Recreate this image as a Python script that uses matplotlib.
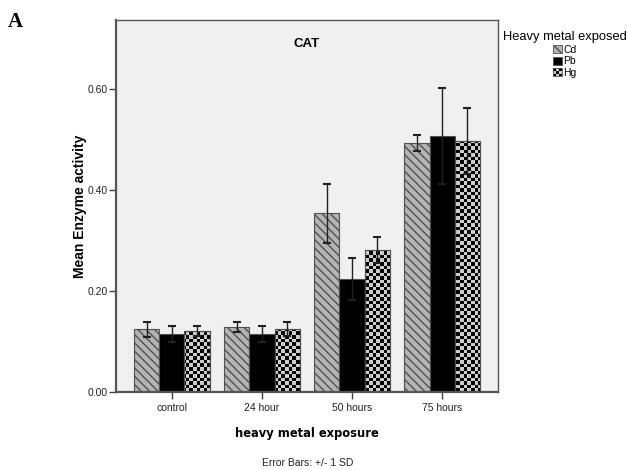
import numpy as np
import matplotlib
matplotlib.use("Agg")
import matplotlib.pyplot as plt
from matplotlib.patches import Rectangle, Patch
from matplotlib.legend_handler import HandlerPatch

groups = ["control", "24 hour", "50 hours", "75 hours"]
metals = ["Cd", "Pb", "Hg"]
cd_mean = [0.124, 0.129, 0.354, 0.493]
cd_sd = [0.015, 0.010, 0.058, 0.016]
pb_mean = [0.115, 0.115, 0.224, 0.507]
pb_sd = [0.016, 0.016, 0.041, 0.095]
hg_mean = [0.121, 0.125, 0.281, 0.497]
hg_sd = [0.010, 0.014, 0.026, 0.065]

plt.rcParams['font.family'] = ['Liberation Sans', 'DejaVu Sans']
plt.rcParams['hatch.linewidth'] = 1.0
plt.rcParams['hatch.color'] = '#3a3a3a'

W, H = 628, 470
fig = plt.figure(figsize=(W/100, H/100), dpi=100)
ax = fig.add_axes([116/W, 1-392/H, 382/W, 372/H])
ax.set_facecolor('#f0f0f0')

x = np.arange(len(groups))
bw = 0.278
edge = '#505050'

cd_bars = ax.bar(x - bw, cd_mean, bw, color='#b4b4b4', hatch='\\\\\\\\',
                 edgecolor=edge, linewidth=0.8, zorder=2)
pb_bars = ax.bar(x, pb_mean, bw, color='black', edgecolor=edge, linewidth=0.8, zorder=2)
hg_bars = ax.bar(x + bw, hg_mean, bw, color='#c8c8c8', edgecolor=edge, linewidth=0.8, zorder=2)

ax.set_xlim(-0.622, 3.622)
ax.set_ylim(0, 0.737)

# checkerboard fill for Hg bars
nx, ny = int(382/3.5), int(372/3.5)
checker = (np.add.outer(np.arange(ny), np.arange(nx)) % 2).astype(float)
for b in hg_bars:
    im = ax.imshow(checker, cmap='gray', vmin=0, vmax=1.25, extent=(-0.622, 3.622, 0, 0.737),
                   aspect='auto', interpolation='nearest', zorder=2.5)
    im.set_clip_path(b)
ax.bar(x + bw, hg_mean, bw, fill=False, edgecolor=edge, linewidth=0.8, zorder=3)
ax.set_xlim(-0.622, 3.622)
ax.set_ylim(0, 0.737)

for off, m, s in [(-bw, cd_mean, cd_sd), (0, pb_mean, pb_sd), (bw, hg_mean, hg_sd)]:
    ax.errorbar(x + off, m, yerr=s, fmt='none', ecolor='#202020', elinewidth=1,
                capsize=3, capthick=1.5, zorder=4)

ax.set_xticks(x)
ax.set_xticklabels(groups, fontsize=7.5, color='#222222')
ax.set_yticks([0, 0.2, 0.4, 0.6])
ax.set_yticklabels(["0.00", "0.20", "0.40", "0.60"], fontsize=7.5, color='#222222')
ax.tick_params(axis='y', length=5, width=1, color='#404040', pad=1)
ax.tick_params(axis='x', length=5, width=1, color='#404040', pad=3)
for sp in ax.spines.values():
    sp.set_color('#555555')
    sp.set_linewidth(1)
ax.spines['left'].set_linewidth(1.6)
ax.spines['bottom'].set_linewidth(1.6)

ax.set_ylabel("Mean Enzyme activity", fontsize=10, fontweight='bold', labelpad=0)
ax.set_xlabel("heavy metal exposure", fontsize=8.3, fontweight='bold', family='DejaVu Sans', labelpad=10)
ax.text(0.5, 0.935, "CAT", transform=ax.transAxes, ha='center', va='center',
        fontsize=9.5, fontweight='bold')

fig.text(308/W, 1-463/H, "Error Bars: +/- 1 SD", ha='center', va='center', fontsize=7.5, color='#222222')
fig.text(8/W, 1-22/H, "A", ha='left', va='center', fontsize=15, fontweight='bold',
         family='Liberation Serif')


class HandlerChecker(HandlerPatch):
    def create_artists(self, legend, orig_handle, xdescent, ydescent, width, height, fontsize, trans):
        arts = [Rectangle((-xdescent, -ydescent), width, height, facecolor='#c8c8c8',
                          edgecolor='none', transform=trans)]
        n = 3
        cw, ch = width / n, height / n
        for i in range(n):
            for j in range(n):
                if (i + j) % 2 == 0:
                    arts.append(Rectangle((-xdescent + i*cw, -ydescent + j*ch), cw, ch,
                                          facecolor='black', edgecolor='none', transform=trans))
        arts.append(Rectangle((-xdescent, -ydescent), width, height, fill=False,
                              edgecolor=edge, linewidth=0.6, transform=trans))
        return arts


h_cd = Patch(facecolor='#b4b4b4', hatch='\\\\\\\\', edgecolor=edge, linewidth=0.6)
h_pb = Patch(facecolor='black', edgecolor=edge, linewidth=0.6)
h_hg = Patch(facecolor='#c8c8c8')
leg = fig.legend([h_cd, h_pb, h_hg], metals, loc='upper center',
                 bbox_to_anchor=(565/W, 1-26/H), frameon=False, fontsize=7.5,
                 title="Heavy metal exposed", title_fontsize=9.3,
                 handlelength=0.8, handleheight=0.8, handletextpad=0.15,
                 labelspacing=0.15, borderpad=0, handler_map={h_hg: HandlerChecker()})

fig.savefig("out.png", dpi=100)
